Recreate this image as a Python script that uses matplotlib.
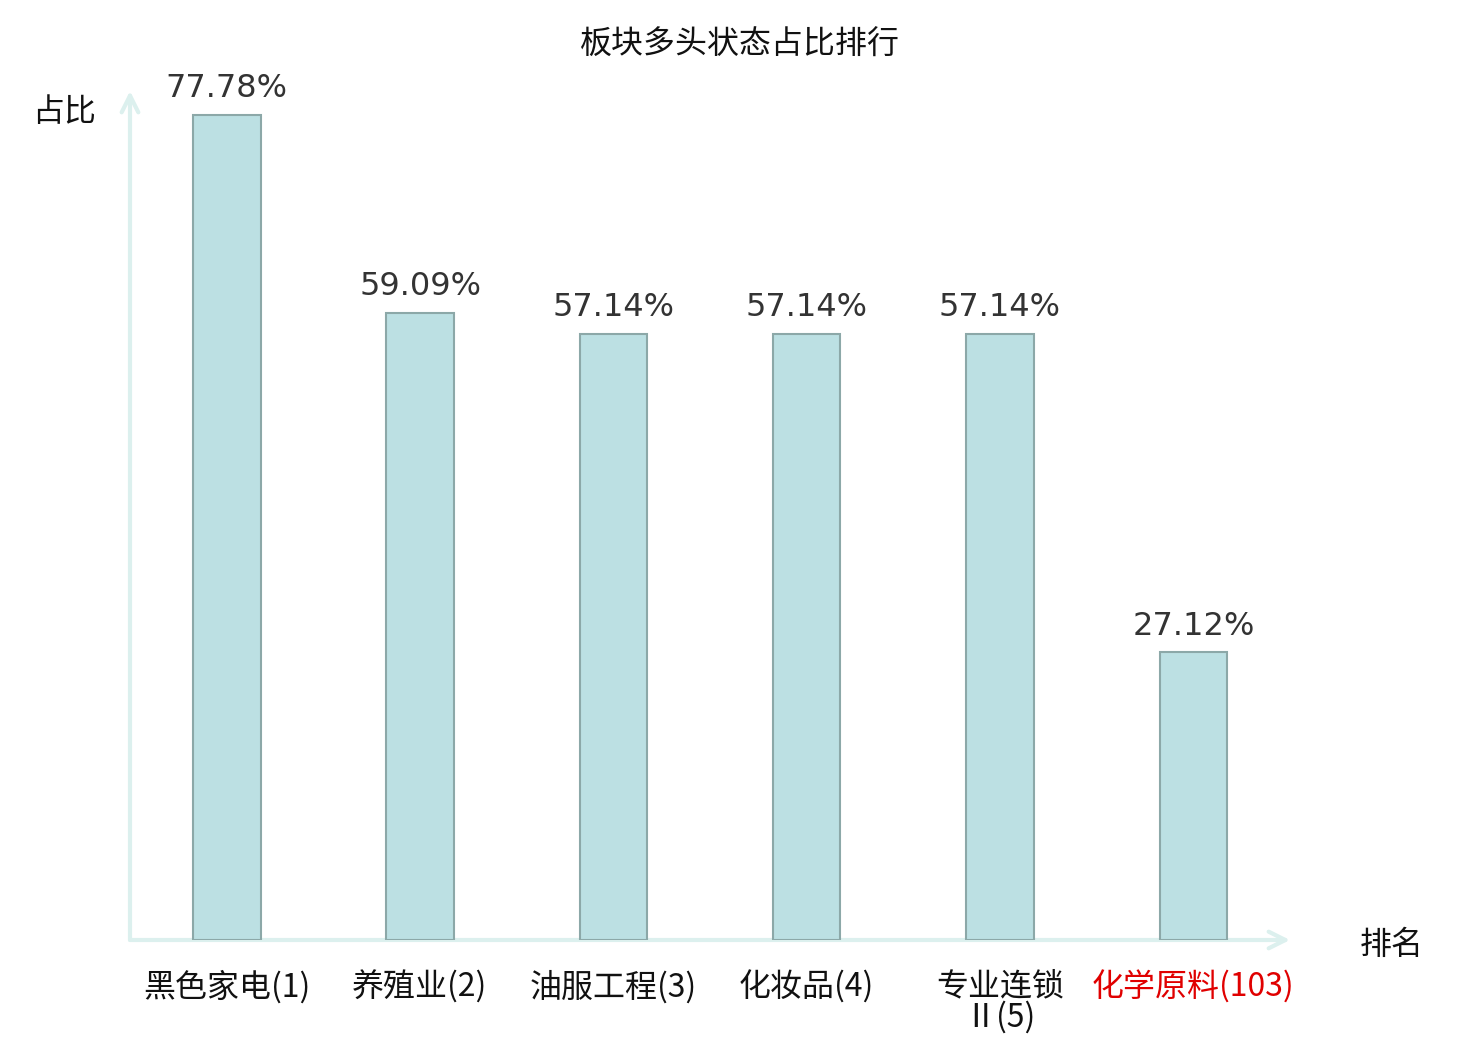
import numpy as np
import matplotlib
matplotlib.use('Agg')
import matplotlib.pyplot as plt

plt.rcParams['font.family'] = ['Noto Sans CJK SC', 'DejaVu Sans']

# sector names with rank, and share of bullish state (%)
sectors = ['黑色家电(1)', '养殖业(2)', '油服工程(3)', '化妆品(4)', '专业连锁\nⅡ(5)', '化学原料(103)']
ratios = [77.78, 59.09, 57.14, 57.14, 57.14, 27.12]
highlight = [False, False, False, False, False, True]

bar_color = '#bce0e3'
edge_color = '#8ca8a8'
axis_color = '#dcf0ee'

fig = plt.figure(figsize=(14.8, 10.4), dpi=100)
ax = fig.add_axes([130 / 1480, 100 / 1040, 1160 / 1480, 849 / 1040])

x = np.arange(len(sectors))
ax.bar(x, ratios, width=0.35, color=bar_color, edgecolor=edge_color, linewidth=1.5, zorder=3)

for xi, v in zip(x, ratios):
    ax.text(xi, v + 1.0, f'{v:.2f}%', ha='center', va='bottom', fontsize=23,
            color='#333333', family='DejaVu Sans')

ax.set_xlim(-0.5, len(sectors) - 0.5)
ax.set_ylim(0, 80)

for s in ax.spines.values():
    s.set_visible(False)
ax.set_yticks([])
ax.set_xticks(x)
ax.set_xticklabels(sectors, fontsize=23, linespacing=0.95)
ax.tick_params(axis='x', length=0, pad=22)
for lbl, hl in zip(ax.get_xticklabels(), highlight):
    lbl.set_color('#e00000' if hl else '#111111')

# axis arrows
arrow = dict(arrowstyle='->', color=axis_color, lw=3, mutation_scale=30, shrinkA=0, shrinkB=0)
ax.annotate('', xy=(0, 1.0), xytext=(0, 0), xycoords='axes fraction', arrowprops=arrow, zorder=1)
ax.annotate('', xy=(1.0, 0), xytext=(0, 0), xycoords='axes fraction', arrowprops=arrow, zorder=1)

fig.text(64 / 1480, 1 - 112 / 1040, '占比', ha='center', va='center', fontsize=23, color='#111111')
fig.text(1392 / 1480, 1 - 945 / 1040, '排名', ha='center', va='center', fontsize=23, color='#111111')
fig.text(740 / 1480, 1 - 45 / 1040, '板块多头状态占比排行', ha='center', va='center', fontsize=23, color='#111111')

fig.savefig('out.png', dpi=100)
